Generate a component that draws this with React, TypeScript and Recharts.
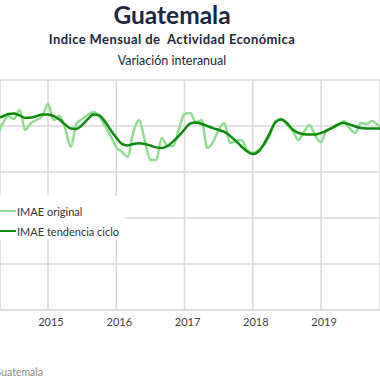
import React from 'react';
import { LineChart, Line, XAxis, YAxis, CartesianGrid } from 'recharts';

// meses desde abril 2014 (indice -9 = abr-2014, 0 = ene-2015)
const START_OFFSET = -9;

// IMAE original, variacion interanual (%)
const imaeOriginal = [
  3.48, 4.09, 4.43, 4.30, 4.70, 3.83, 4.13, 4.26, 4.43,
  4.96, 4.26, 4.43, 3.91, 3.09, 4.09, 4.30, 4.48, 4.61, 4.43, 4.00, 3.57,
  3.09, 2.87, 2.65, 3.74, 4.26, 3.39, 2.52, 2.52, 3.48, 3.13, 3.13, 3.87,
  4.52, 4.57, 4.17, 4.26, 3.04, 3.30, 3.83, 4.13, 3.26, 3.35, 3.39, 2.96,
  2.83, 2.96, 3.17, 3.61, 4.22, 4.30, 4.04, 3.78, 3.39, 3.74, 4.04, 3.57,
  3.30, 3.83, 3.91, 4.04, 4.22, 3.91, 3.70, 4.13, 4.09, 4.22, 4.04, 3.96,
];

// IMAE tendencia ciclo (%)
const imaeTendencia = [
  4.35, 4.41, 4.52, 4.54, 4.46, 4.35, 4.37, 4.43, 4.50,
  4.50, 4.43, 4.28, 4.07, 3.89, 3.87, 4.04, 4.30, 4.50, 4.46, 4.20, 3.83,
  3.50, 3.22, 3.15, 3.22, 3.25, 3.22, 3.15, 3.07, 3.04, 3.13, 3.33, 3.57,
  3.85, 4.11, 4.15, 4.09, 4.00, 3.91, 3.83, 3.74, 3.57, 3.35, 3.11, 2.89,
  2.78, 2.89, 3.24, 3.70, 4.17, 4.28, 4.13, 3.85, 3.70, 3.64, 3.63, 3.63,
  3.70, 3.80, 3.93, 4.07, 4.13, 4.07, 3.98, 3.91, 3.89, 3.89, 3.89, 3.89,
];

const yearTicks = [0, 12, 24, 36, 48];
const yearLabels = ['2015', '2016', '2017', '2018', '2019'];
const yTicks = [-4, -2, 0, 2, 4, 6];

const data = imaeOriginal.map((v, i) => ({
  m: i + START_OFFSET,
  original: v,
  tendencia: imaeTendencia[i],
}));

const FONT = 'Lato, "Liberation Sans", sans-serif';

const series = [
  { key: 'original', name: 'IMAE original', color: '#8fdc8f' },
  { key: 'tendencia', name: 'IMAE tendencia ciclo', color: '#0b8a0b' },
];

export default function App() {
  return (
    <div style={{ position: 'absolute', left: 0, top: 0, width: 380, height: 380, background: '#fff', overflow: 'hidden' }}>
      <svg width={380} height={80} style={{ position: 'absolute', left: 0, top: 0 }}>
        <text x={172} y={24} textAnchor="middle" fontFamily={FONT} fontWeight={700} fontSize={24.5} fill="#1a2740">Guatemala</text>
        <text x={172} y={44} textAnchor="middle" fontFamily={FONT} fontWeight={700} fontSize={13} letterSpacing={0.4} fill="#1a2740" style={{ whiteSpace: 'pre' }}>
          Indice Mensual de  Actividad Económica
        </text>
        <text x={172} y={65} textAnchor="middle" fontFamily={FONT} fontSize={12.5} fill="#1a2740">Variación interanual</text>
      </svg>
      <LineChart width={380} height={380} data={data} margin={{ top: 80, right: 0, bottom: 40, left: 0 }}>
        <CartesianGrid stroke="#d9d9d9" strokeWidth={1.5} />
        <XAxis
          dataKey="m"
          type="number"
          domain={[-8.44, 58.36]}
          allowDataOverflow
          ticks={yearTicks}
          tickFormatter={(v) => yearLabels[yearTicks.indexOf(v)]}
          tickLine={false}
          axisLine={{ stroke: '#d9d9d9', strokeWidth: 1.5 }}
          tick={{ fill: '#404040', fontSize: 11, fontFamily: FONT, dx: 3 }}
          height={30}
        />
        <YAxis hide domain={[-4, 6]} ticks={yTicks} allowDataOverflow />
        {series.map((s) => (
          <Line key={s.key} type="monotone" dataKey={s.key} name={s.name} stroke={s.color} strokeWidth={2.5} dot={false} isAnimationActive={false} />
        ))}
      </LineChart>
      <div style={{ position: 'absolute', left: 0, top: 196, width: 125, height: 44, background: '#fff', paddingTop: 5, boxSizing: 'border-box', fontFamily: FONT, fontSize: 11, color: '#333' }}>
        {series.map((s) => (
          <div key={s.key} style={{ display: 'flex', alignItems: 'center', height: 20 }}>
            <span style={{ display: 'inline-block', width: 16, height: 2, background: s.color, marginRight: 1 }} />
            <span>{s.name}</span>
          </div>
        ))}
      </div>
      <svg width={380} height={20} style={{ position: 'absolute', left: 0, top: 360 }}>
        <text x={43} y={16} textAnchor="end" fontFamily={FONT} fontSize={10.5} fill="#8a8a8a">Fuente: Banco de Guatemala</text>
      </svg>
    </div>
  );
}
